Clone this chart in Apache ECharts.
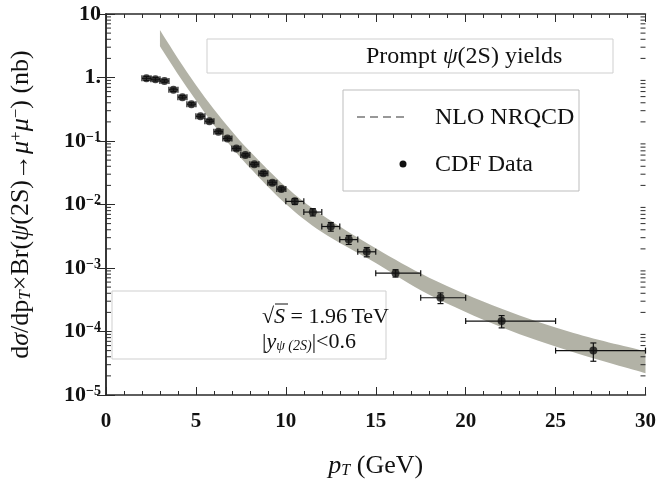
<!DOCTYPE html>
<html>
<head>
<meta charset="utf-8">
<script src="https://cdn.jsdelivr.net/npm/echarts@6/dist/echarts.min.js"></script>
<style>
  html, body { margin: 0; padding: 0; background: #ffffff; }
  #chart { width: 659px; height: 484px; }
</style>
</head>
<body>
<div id="chart"></div>
<script>
// CDF prompt psi(2S) cross section, Tevatron Run II (value in nb per GeV)
const ptCenter = [2.25, 2.75, 3.25, 3.75, 4.25, 4.75, 5.25, 5.75, 6.25, 6.75, 7.25, 7.75,
                  8.25, 8.75, 9.25, 9.75, 10.5, 11.5, 12.5, 13.5, 14.5, 16.1, 18.6, 22.0, 27.1];
const ptBinLow = [2.0, 2.5, 3.0, 3.5, 4.0, 4.5, 5.0, 5.5, 6.0, 6.5, 7.0, 7.5,
                  8.0, 8.5, 9.0, 9.5, 10, 11, 12, 13, 14, 15, 17.5, 20, 25];
const ptBinHigh = [2.5, 3.0, 3.5, 4.0, 4.5, 5.0, 5.5, 6.0, 6.5, 7.0, 7.5, 8.0,
                   8.5, 9.0, 9.5, 10, 11, 12, 13, 14, 15, 17.5, 20, 25, 30];
const sigma = [0.97, 0.94, 0.88, 0.64, 0.49, 0.38, 0.245, 0.205, 0.14, 0.109, 0.076, 0.060,
               0.043, 0.031, 0.022, 0.0175, 0.0112, 0.0076, 0.0045, 0.0028, 0.0018,
               8.3e-4, 3.4e-4, 1.46e-4, 5.0e-5];
const sigmaErr = [0.07, 0.06, 0.05, 0.04, 0.03, 0.022, 0.014, 0.012, 0.008, 0.0065, 0.0045, 0.0036,
                  0.0027, 0.002, 0.0015, 0.0012, 0.0012, 0.001, 0.0007, 0.00045, 0.0003,
                  1.1e-4, 0.65e-4, 0.32e-4, 1.6e-5];

// NLO NRQCD prediction: upper and lower edges of the uncertainty band
const bandPt = [3, 4, 5, 6, 7, 8, 10, 12, 15, 18, 22, 26, 30];
const bandUpper = [5.6, 2.0, 0.76, 0.316, 0.143, 0.069, 0.019, 0.0069, 0.00204,
                   6.98e-4, 2.29e-4, 9.5e-5, 4.9e-5];
const bandLower = [3.1, 1.13, 0.44, 0.178, 0.079, 0.038, 0.0102, 0.0037, 0.0012,
                   3.76e-4, 1.17e-4, 4.7e-5, 2.2e-5];

// axis ticks
const xTickLabels = ['0', '5', '10', '15', '20', '25', '30'];
const yTickLabels = ['10^-5', '10^-4', '10^-3', '10^-2', '10^-1', '1.', '10'];
const yDecades = [1e-5, 1e-4, 1e-3, 1e-2, 1e-1, 1];
const yMinorMantissa = [2, 3, 4, 5, 6, 7, 8, 9];

const X_MIN = 0, X_MAX = 30, Y_MIN = 1e-5, Y_MAX = 10;
const SERIF = '"Liberation Serif", "DejaVu Serif", serif';
const INK = '#111111';
const FRAME = '#2a2a2a';
const BAND = '#b2b2a6';

const yMinorTicks = [];
yDecades.forEach(d => yMinorMantissa.forEach(m => yMinorTicks.push(+(m * d).toPrecision(3))));

// Catmull-Rom spline through pixel points, as SVG path commands
function splinePath(pts, start) {
  let d = (start ? 'M' : 'L') + pts[0][0] + ',' + pts[0][1];
  for (let i = 0; i < pts.length - 1; i++) {
    const p0 = pts[i - 1] || pts[i], p1 = pts[i], p2 = pts[i + 1], p3 = pts[i + 2] || pts[i + 1];
    const c1 = [p1[0] + (p2[0] - p0[0]) / 6, p1[1] + (p2[1] - p0[1]) / 6];
    const c2 = [p2[0] - (p3[0] - p1[0]) / 6, p2[1] - (p3[1] - p1[1]) / 6];
    d += ' C' + c1[0] + ',' + c1[1] + ' ' + c2[0] + ',' + c2[1] + ' ' + p2[0] + ',' + p2[1];
  }
  return d;
}

function renderBand(params, api) {
  if (params.dataIndex !== 0) return null;
  const up = bandPt.map((x, i) => api.coord([x, bandUpper[i]]));
  const lo = bandPt.map((x, i) => api.coord([x, bandLower[i]])).reverse();
  const d = splinePath(up, true) + ' ' + splinePath(lo, false) + ' Z';
  return { type: 'path', shape: { pathData: d }, style: { fill: BAND, stroke: null } };
}

function renderErrorBar(params, api) {
  const x = api.value(0), y = api.value(1), xl = api.value(2), xh = api.value(3), e = api.value(4);
  const c = api.coord([x, y]);
  const l = api.coord([xl, y]), r = api.coord([xh, y]);
  const t = api.coord([x, y + e]), b = api.coord([x, y - e]);
  const cap = 3;
  const st = { stroke: '#111', lineWidth: 1.2 };
  const seg = (x1, y1, x2, y2) => ({ type: 'line', shape: { x1, y1, x2, y2 }, style: st });
  return {
    type: 'group',
    children: [
      seg(l[0], c[1], r[0], c[1]),
      seg(l[0], c[1] - cap, l[0], c[1] + cap),
      seg(r[0], c[1] - cap, r[0], c[1] + cap),
      seg(c[0], t[1], c[0], b[1]),
      seg(c[0] - cap, t[1], c[0] + cap, t[1]),
      seg(c[0] - cap, b[1], c[0] + cap, b[1])
    ]
  };
}

function renderMinorTick(params, api) {
  const v = api.value(1);
  const l = api.coord([X_MIN, v]), r = api.coord([X_MAX, v]);
  const st = { stroke: FRAME, lineWidth: 1 };
  return {
    type: 'group',
    children: [
      { type: 'line', shape: { x1: l[0], y1: l[1], x2: l[0] + 5, y2: l[1] }, style: st },
      { type: 'line', shape: { x1: r[0] - 5, y1: r[1], x2: r[0], y2: r[1] }, style: st }
    ]
  };
}

function yLabel(v) {
  const k = Math.round(Math.log10(v));
  const t = yTickLabels[k + 5];
  if (!t) return '';
  const parts = t.split('^');
  return parts.length > 1 ? '{b|' + parts[0] + '}{s|' + parts[1].replace('-', '\u2212') + '}' : '{b|' + t + '}';
}

const frameLine = { show: true, lineStyle: { color: FRAME, width: 1.5 } };
const xAxisBase = {
  type: 'value', min: X_MIN, max: X_MAX, interval: 5,
  axisLine: frameLine,
  axisTick: { show: true, inside: true, length: 8, lineStyle: { color: FRAME, width: 1 } },
  minorTick: { show: true, splitNumber: 5, length: 4, lineStyle: { color: FRAME, width: 1 } },
  splitLine: { show: false }
};
const yAxisBase = {
  type: 'log', logBase: 10, min: Y_MIN, max: Y_MAX,
  axisLine: frameLine,
  axisTick: { show: true, inside: true, length: 9, lineStyle: { color: FRAME, width: 1 } },
  splitLine: { show: false }
};

const chart = echarts.init(document.getElementById('chart'), null, { renderer: 'canvas' });
chart.setOption({
  animation: false,
  backgroundColor: '#ffffff',
  grid: { left: 104, right: 12, top: 14, bottom: 85 },
  xAxis: [
    Object.assign({}, xAxisBase, {
      position: 'bottom',
      axisLabel: {
        margin: 16, color: INK, fontFamily: SERIF, fontSize: 21, fontWeight: 'bold',
        formatter: v => xTickLabels[Math.round(v / 5)]
      },
      name: '{i|p}{sub|T}{r| (GeV)}',
      nameLocation: 'middle', nameGap: 58,
      nameTextStyle: {
        rich: {
          i: { fontFamily: SERIF, fontSize: 26, fontStyle: 'italic', color: INK },
          sub: { fontFamily: SERIF, fontSize: 16, fontStyle: 'italic', color: INK, verticalAlign: 'bottom', padding: [10, 0, 0, 0] },
          r: { fontFamily: SERIF, fontSize: 26, color: INK }
        }
      }
    }),
    Object.assign({}, xAxisBase, { position: 'top', axisLabel: { show: false } })
  ],
  yAxis: [
    Object.assign({}, yAxisBase, {
      position: 'left',
      axisLabel: {
        margin: 5, formatter: yLabel,
        rich: {
          b: { fontFamily: SERIF, fontSize: 22, fontWeight: 'bold', color: INK },
          s: { fontFamily: SERIF, fontSize: 14, fontWeight: 'bold', color: INK, verticalAlign: 'top' }
        }
      },
      name: '{r|d}{i|\u03c3}{r|/dp}{sub|T}{r|\u00d7Br(}{i|\u03c8}{r|(2S)\u2192}{i|\u03bc}{sup|+}{i|\u03bc}{sup|\u2212}{r|) (nb)}',
      nameLocation: 'middle', nameGap: 72, nameRotate: 90,
      nameTextStyle: {
        rich: {
          r: { fontFamily: SERIF, fontSize: 26, color: INK },
          i: { fontFamily: SERIF, fontSize: 26, fontStyle: 'italic', color: INK },
          sub: { fontFamily: SERIF, fontSize: 17, fontStyle: 'italic', color: INK, verticalAlign: 'bottom' },
          sup: { fontFamily: SERIF, fontSize: 17, color: INK, verticalAlign: 'top' }
        }
      }
    }),
    Object.assign({}, yAxisBase, { position: 'right', axisLabel: { show: false } })
  ],
  series: [
    {
      name: 'NLO NRQCD band', type: 'custom', renderItem: renderBand,
      xAxisIndex: 0, yAxisIndex: 0, z: 1, silent: true,
      data: bandPt.map((x, i) => [x, bandLower[i], bandUpper[i]])
    },
    {
      name: 'y minor ticks', type: 'custom', renderItem: renderMinorTick,
      xAxisIndex: 0, yAxisIndex: 0, z: 5, silent: true, clip: false,
      data: yMinorTicks.map(v => [X_MIN, v])
    },
    {
      name: 'CDF error bars', type: 'custom', renderItem: renderErrorBar,
      xAxisIndex: 0, yAxisIndex: 0, z: 3, silent: true,
      data: ptCenter.map((x, i) => [x, sigma[i], ptBinLow[i], ptBinHigh[i], sigmaErr[i]])
    },
    {
      name: 'CDF Data', type: 'scatter', xAxisIndex: 0, yAxisIndex: 0, z: 4,
      symbol: 'circle', symbolSize: 8, itemStyle: { color: '#111' },
      data: ptCenter.map((x, i) => [x, sigma[i]])
    }
  ],
  graphic: [
    // title box
    { type: 'rect', shape: { x: 207, y: 39, width: 406, height: 34 },
      style: { fill: '#fff', stroke: '#cfcfcf', lineWidth: 1 }, z: 10 },
    { type: 'text', x: 366, y: 57, z: 11,
      style: { text: '{r|Prompt }{i|\u03c8}{r|(2S) yields}', verticalAlign: 'middle',
        rich: { r: { fontFamily: SERIF, fontSize: 24, fill: INK }, i: { fontFamily: SERIF, fontSize: 24, fontStyle: 'italic', fill: INK } } } },
    // legend box
    { type: 'rect', shape: { x: 343, y: 90, width: 236, height: 101 },
      style: { fill: '#fff', stroke: '#bdbdbd', lineWidth: 1 }, z: 10 },
    { type: 'line', shape: { x1: 357, y1: 117, x2: 405, y2: 117 }, z: 11,
      style: { stroke: '#333', lineWidth: 1.2, lineDash: [8, 5] } },
    { type: 'text', x: 435, y: 118, z: 11,
      style: { text: 'NLO NRQCD', fontFamily: SERIF, fontSize: 24, fill: INK, verticalAlign: 'middle' } },
    { type: 'circle', shape: { cx: 403, cy: 164, r: 3.5 }, style: { fill: '#111' }, z: 11 },
    { type: 'text', x: 435, y: 165, z: 11,
      style: { text: 'CDF Data', fontFamily: SERIF, fontSize: 24, fill: INK, verticalAlign: 'middle' } },
    // collision energy and rapidity box
    { type: 'rect', shape: { x: 112, y: 291, width: 274, height: 68 },
      style: { fill: '#fff', stroke: '#cfcfcf', lineWidth: 1 }, z: 10 },
    { type: 'text', x: 262, y: 317, z: 11,
      style: { text: '{r|\u221a}{i|S}{r| = 1.96\u2009TeV}', verticalAlign: 'middle',
        rich: { r: { fontFamily: SERIF, fontSize: 22, fill: INK }, i: { fontFamily: SERIF, fontSize: 22, fontStyle: 'italic', fill: INK } } } },
    { type: 'line', shape: { x1: 275, y1: 304, x2: 288, y2: 304 }, z: 11,
      style: { stroke: INK, lineWidth: 1 } },
    { type: 'text', x: 262, y: 342, z: 11,
      style: { text: '{r||}{i|y}{sub|\u03c8 (2S)}{r||<0.6}', verticalAlign: 'middle',
        rich: { r: { fontFamily: SERIF, fontSize: 22, fill: INK }, i: { fontFamily: SERIF, fontSize: 22, fontStyle: 'italic', fill: INK },
          sub: { fontFamily: SERIF, fontSize: 14, fontStyle: 'italic', fill: INK, verticalAlign: 'bottom' } } } }
  ]
});
</script>
</body>
</html>
